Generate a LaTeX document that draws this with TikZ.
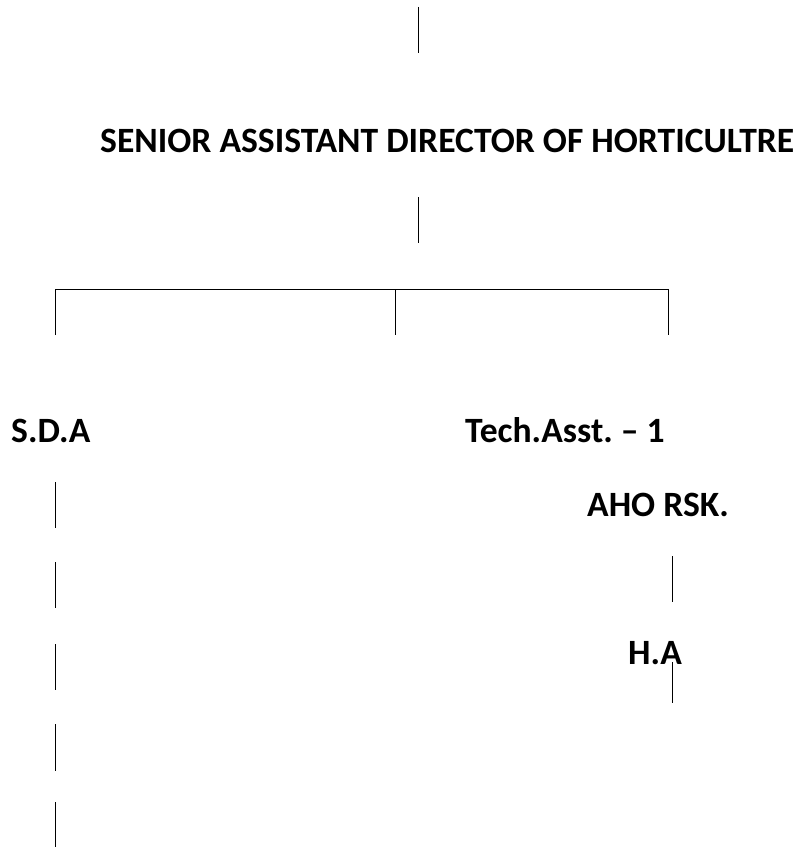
\documentclass[tikz,border=0pt]{standalone}
\usepackage{fontspec}
\setmainfont{Carlito}
\frenchspacing
\begin{document}
\begin{tikzpicture}[x=1pt,y=-1pt,
  lbl/.style={anchor=base west,inner sep=0pt,font=\bfseries\fontsize{35.6}{38}\selectfont},
  seg/.style={line width=0.9pt}]
\useasboundingbox (0,0) rectangle (795,848);
% texts
\node[lbl] (title) at (100,152) {SENIOR ASSISTANT DIRECTOR OF HORTICULTRE};
\node[lbl] (sda) at (11,442) {S.D.A};
\node[lbl] (tech) at (465,442) {Tech.Asst. -- 1};
\node[lbl] (aho) at (587,516) {AHO RSK.};
\node[lbl] (ha) at (628,664) {H.A};
% coordinates
\coordinate (t1) at (418,7);   \coordinate (t2) at (418,53);
\coordinate (m1) at (418,197); \coordinate (m2) at (418,243);
\coordinate (bl) at (55,289);  \coordinate (bm) at (395,289); \coordinate (br) at (668,289);
\coordinate (bl2) at (55,335); \coordinate (bm2) at (395,335); \coordinate (br2) at (668,335);
\draw[seg] (t1) -- (t2);
\draw[seg] (m1) -- (m2);
\draw[seg] (bl2) -- (bl) -- (br) -- (br2);
\draw[seg] (bm) -- (bm2);
% left column segments
\foreach \a/\b [count=\i] in {482/528,562/608,644/690,724/771,802/847}{
  \coordinate (l\i a) at (55,\a); \coordinate (l\i b) at (55,\b);
  \draw[seg] (l\i a) -- (l\i b);
}
% right column segments
\coordinate (r1a) at (672,556); \coordinate (r1b) at (672,602);
\coordinate (r2a) at (672,662); \coordinate (r2b) at (672,703);
\draw[seg] (r1a) -- (r1b);
\draw[seg] (r2a) -- (r2b);
\end{tikzpicture}
\end{document}
